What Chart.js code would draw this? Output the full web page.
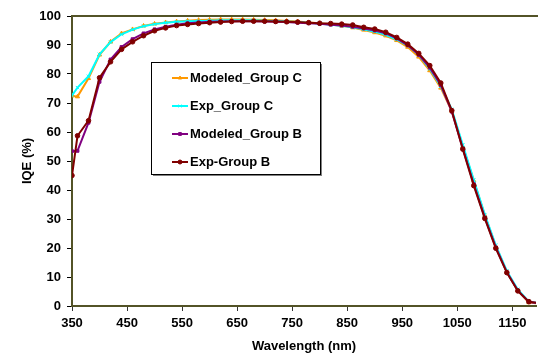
<!DOCTYPE html>
<html>
<head>
<meta charset="utf-8">
<script src="https://cdn.jsdelivr.net/npm/chart.js@4.4.0/dist/chart.umd.min.js"></script>
<style>
  body { margin: 0; background: #fff; }
  #wrap { width: 541px; height: 355px; }
</style>
</head>
<body>
<div id="wrap"><canvas id="iqeChart" width="541" height="355"></canvas></div>
<script>
// wavelengths (nm)
const wl = [350, 360, 380, 400, 420, 440, 460, 480, 500, 520, 540, 560, 580, 600, 620, 640, 660, 680, 700, 720, 740, 760,
            780, 800, 820, 840, 860, 880, 900, 920, 940, 960, 980, 1000, 1020, 1040, 1060, 1080, 1100, 1120, 1140, 1160, 1180, 1200];

const modeledC = [72.5, 72.2, 78.5, 86.6, 91.1, 94.0, 95.4, 96.6, 97.3, 97.8, 98.1, 98.4, 98.6, 98.7, 98.8, 98.8, 98.8, 98.7, 98.6, 98.5, 98.3, 98.1,
                  97.8, 97.5, 97.1, 96.6, 96.0, 95.2, 94.3, 93.2, 91.6, 89.3, 85.9, 81.2, 75.2, 67.2, 55.0, 43.2, 31.3, 20.6, 11.8, 5.3, 1.2, 0.8];
const expC = [72.6, 75.3, 79.2, 86.8, 91.0, 93.7, 95.3, 96.5, 97.2, 97.7, 98.0, 98.2, 98.3, 98.4, 98.5, 98.5, 98.5, 98.5, 98.4, 98.3, 98.1, 97.9,
              97.7, 97.4, 97.0, 96.6, 96.1, 95.4, 94.6, 93.5, 91.9, 89.8, 86.6, 81.8, 75.8, 67.8, 55.6, 43.4, 31.5, 20.9, 12.1, 5.7, 1.5, 0.9];
const modeledB = [53.4, 53.5, 63.2, 77.3, 85.0, 89.3, 92.0, 94.0, 95.4, 96.3, 97.0, 97.5, 97.8, 98.0, 98.1, 98.2, 98.2, 98.2, 98.1, 98.0, 97.9, 97.7,
                  97.5, 97.3, 97.0, 96.7, 96.3, 95.7, 95.0, 94.0, 92.3, 89.9, 86.6, 82.2, 76.2, 67.0, 54.3, 42.0, 30.5, 20.2, 11.6, 5.3, 1.4, 0.9];
const expB = [45.0, 58.7, 63.9, 78.7, 84.2, 88.5, 91.1, 93.2, 94.9, 95.9, 96.7, 97.1, 97.4, 97.7, 97.9, 98.1, 98.2, 98.2, 98.2, 98.1, 98.0, 97.9,
              97.7, 97.5, 97.4, 97.2, 96.9, 96.1, 95.5, 94.4, 92.6, 90.3, 87.1, 82.9, 76.9, 67.4, 54.1, 41.5, 30.2, 19.9, 11.5, 5.2, 1.5, 0.9];

const xTicks = [350, 450, 550, 650, 750, 850, 950, 1050, 1150];
const yTicks = [0, 10, 20, 30, 40, 50, 60, 70, 80, 90, 100];

const pts = arr => arr.map((v, i) => ({x: wl[i], y: v}));
const frameColor = '#535327';
const fontBold = {family: 'Liberation Sans, Arial, sans-serif', size: 13, weight: 'bold'};

function series(label, data, color, style, radius, order) {
    return {
        label: label,
        data: pts(data),
        borderColor: color,
        backgroundColor: color,
        pointBackgroundColor: color,
        pointBorderColor: color,
        pointStyle: style,
        pointRadius: radius,
        pointBorderWidth: 1,
        borderWidth: 2,
        tension: 0,
        fill: false,
        order: order
    };
}

// top frame line of the plot area
const plotFrame = {
    id: 'plotFrame',
    afterDatasetsDraw(chart) {
        const {ctx, chartArea: {left, right, top}} = chart;
        ctx.save();
        ctx.strokeStyle = frameColor;
        ctx.lineWidth = 2;
        ctx.beginPath();
        ctx.moveTo(left, top);
        ctx.lineTo(right + 2, top);
        ctx.stroke();
        ctx.restore();
    }
};

// boxed legend inside the plot, like the original
const boxLegend = {
    id: 'boxLegend',
    afterDraw(chart) {
        const ctx = chart.ctx;
        const bx = 151, by = 62, bw = 169, bh = 112;
        ctx.save();
        ctx.fillStyle = '#808080';
        ctx.fillRect(bx + 2, by + 2, bw, bh);
        ctx.fillStyle = '#fff';
        ctx.fillRect(bx, by, bw, bh);
        ctx.strokeStyle = '#000';
        ctx.lineWidth = 1;
        ctx.strokeRect(bx + 0.5, by + 0.5, bw, bh);
        ctx.font = 'bold 13px "Liberation Sans", Arial, sans-serif';
        ctx.textBaseline = 'middle';
        chart.data.datasets.forEach((ds, k) => {
            const y = 78 + k * 28;
            ctx.strokeStyle = ds.borderColor;
            ctx.lineWidth = 2;
            ctx.beginPath();
            ctx.moveTo(172, y);
            ctx.lineTo(188, y);
            ctx.stroke();
            if (Chart.helpers && Chart.helpers.drawPoint) {
                ctx.fillStyle = ds.pointBackgroundColor;
                ctx.lineWidth = 1;
                Chart.helpers.drawPoint(ctx, {pointStyle: ds.pointStyle, radius: 2, borderWidth: 1, rotation: 0}, 180, y);
            }
            ctx.fillStyle = '#000';
            ctx.fillText(ds.label, 190, y + 0.5);
        });
        ctx.restore();
    }
};

new Chart(document.getElementById('iqeChart').getContext('2d'), {
    type: 'line',
    data: {
        datasets: [
            series('Modeled_Group C', modeledC, '#ff9900', 'triangle', 2.4, 3),
            series('Exp_Group C', expC, '#00ffff', 'crossRot', 2.4, 2),
            series('Modeled_Group B', modeledB, '#800080', 'rect', 2, 1),
            series('Exp-Group B', expB, '#800000', 'circle', 2.3, 0)
        ]
    },
    options: {
        responsive: false,
        animation: false,
        layout: {padding: {top: 16, right: 0, left: 0, bottom: 0}},
        plugins: {
            legend: {display: false},
            tooltip: {enabled: false},
            title: {display: false}
        },
        scales: {
            x: {
                type: 'linear',
                min: 350,
                max: 1193,
                afterBuildTicks: s => { s.ticks = xTicks.map(v => ({value: v})); },
                afterFit: s => { s.height = 49; },
                border: {display: true, color: frameColor, width: 2},
                grid: {drawOnChartArea: false, drawTicks: true, tickLength: 5, tickColor: '#333', tickWidth: 1},
                ticks: {color: '#000', font: fontBold, padding: 5, maxRotation: 0, autoSkip: false, callback: v => String(v)},
                title: {display: true, text: 'Wavelength (nm)', color: '#000', font: fontBold, padding: {top: 0, bottom: 1}}
            },
            y: {
                min: 0,
                max: 100,
                afterBuildTicks: s => { s.ticks = yTicks.map(v => ({value: v})); },
                afterFit: s => { s.width = 72; },
                border: {display: true, color: frameColor, width: 2},
                grid: {drawOnChartArea: false, drawTicks: true, tickLength: 5, tickColor: '#000', tickWidth: 1},
                ticks: {color: '#000', font: fontBold, padding: 6, callback: v => String(v)},
                title: {display: true, text: 'IQE (%)', color: '#000', font: fontBold, padding: {top: 20, bottom: 0}}
            }
        }
    },
    plugins: [plotFrame, boxLegend]
});
</script>
</body>
</html>
